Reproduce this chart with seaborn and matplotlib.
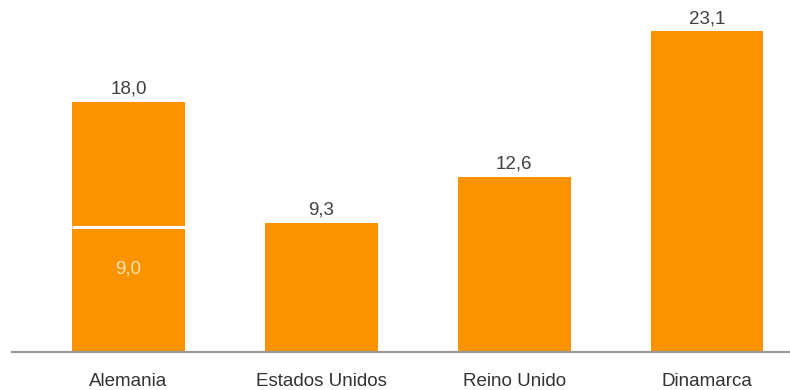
import matplotlib
matplotlib.use("Agg")
import matplotlib.pyplot as plt
import seaborn as sns
import pandas as pd

countries = ["Alemania", "Estados Unidos", "Reino Unido", "Dinamarca"]
values = [18.0, 9.3, 12.6, 23.1]
split_country = "Alemania"
split_value = 9.0

ORANGE = "#FA9300"
TEXT = "#404040"

sns.set_theme(style="white")
plt.rcParams["font.family"] = ["Liberation Sans", "DejaVu Sans"]

df = pd.DataFrame({"pais": countries, "valor": values})

fig = plt.figure(figsize=(7.9, 3.9), dpi=100)
ax = fig.add_axes([12 / 790, 38 / 390, 778 / 790, 347 / 390])

sns.barplot(data=df, x="pais", y="valor", color=ORANGE, saturation=1,
            width=0.585, ax=ax, edgecolor="none")

ax.set_xlim(-0.604, 3.43)
ax.set_ylim(0, 25)

for patch, v in zip(ax.patches, values):
    cx = patch.get_x() + patch.get_width() / 2
    ax.text(cx, v + 0.3, f"{v:.1f}".replace(".", ","), ha="center", va="bottom",
            fontsize=13.5, color=TEXT)

# split line and inner label on the segmented bar
idx = countries.index(split_country)
p = ax.patches[idx]
ax.hlines(split_value, p.get_x(), p.get_x() + p.get_width(), color="white", lw=2.2)
ax.text(p.get_x() + p.get_width() / 2, split_value - 3.0,
        f"{split_value:.1f}".replace(".", ","), ha="center", va="center",
        fontsize=13.5, color="#FFE3B8")

for s in ["top", "right", "left"]:
    ax.spines[s].set_visible(False)
ax.spines["bottom"].set_color("#999999")
ax.spines["bottom"].set_linewidth(1.6)
ax.set_yticks([])
ax.set_xlabel("")
ax.set_ylabel("")
ax.tick_params(axis="x", length=0, pad=15, labelsize=13.5, labelcolor="#333333")

fig.savefig("out.png", dpi=100)
